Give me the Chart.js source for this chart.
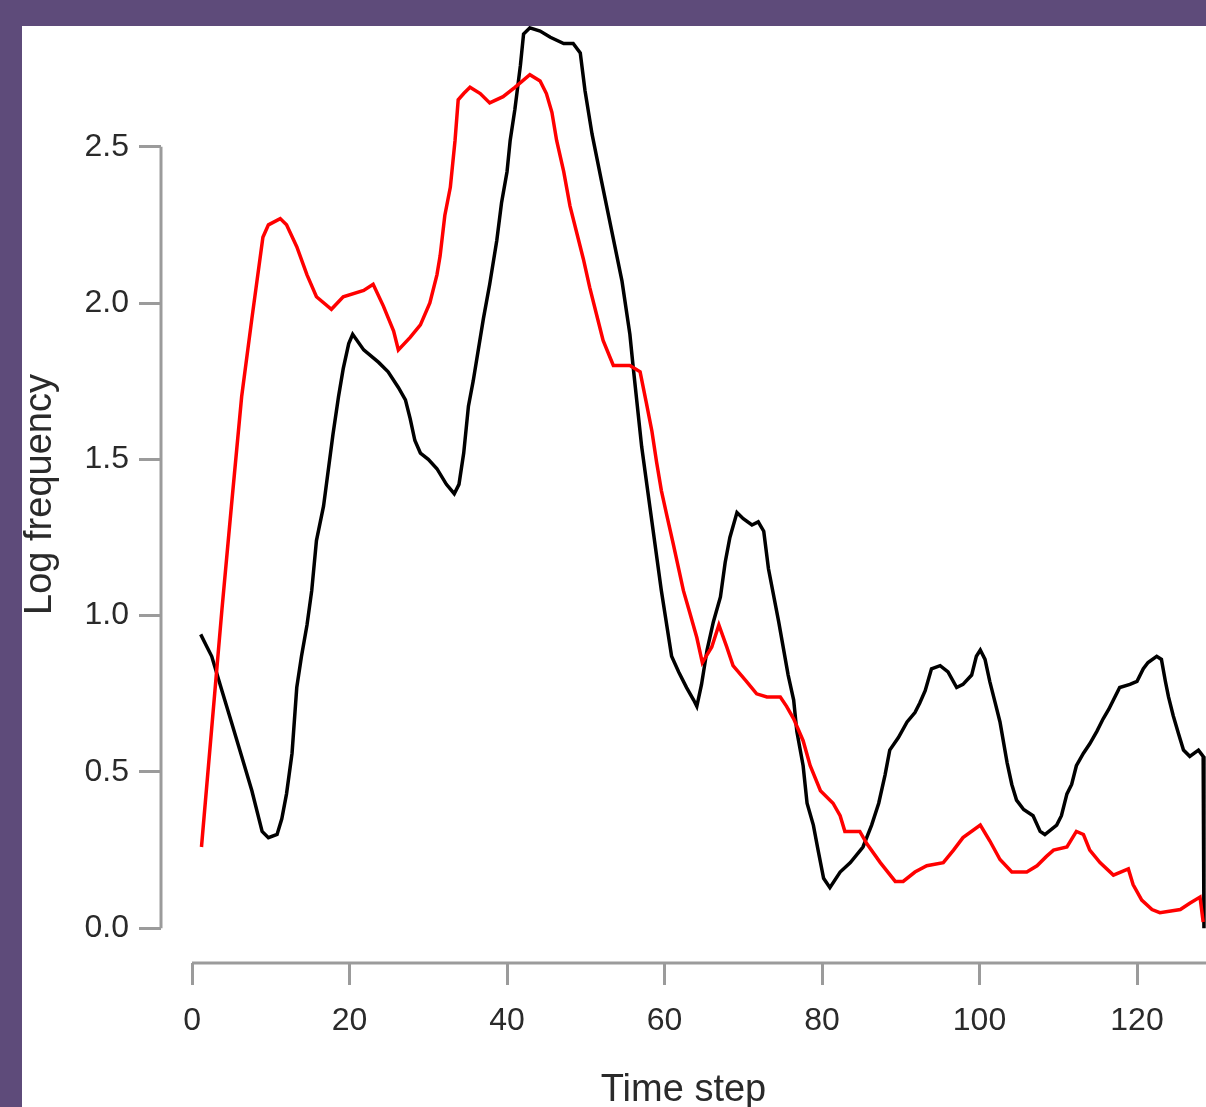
<!DOCTYPE html>
<html>
<head>
<meta charset="utf-8">
<script src="https://cdn.jsdelivr.net/npm/chart.js@4.4.1/dist/chart.umd.min.js"></script>
<style>
  html, body { margin: 0; padding: 0; background: #5e4b7a; overflow: hidden; }
  #wrap { position: absolute; left: 22px; top: 26px; width: 1184px; height: 1081px; background: #fff; }
</style>
</head>
<body>
<div id="wrap"><canvas id="chart"></canvas></div>
<script>
// tick labels
const xTicks = [0, 20, 40, 60, 80, 100, 120];
const yTicks = [0, 0.5, 1.0, 1.5, 2.0, 2.5];

// black series (time step, log frequency)
const blackT = [1.1, 1.9, 2.5, 3.8, 5.0, 6.3, 7.6, 8.9, 9.7, 10.8, 11.4, 12.0, 12.7, 13.3, 13.9, 14.6, 15.2, 15.8, 16.7, 17.9,
  18.6, 19.2, 19.9, 20.4, 21.8, 23.7, 24.9, 26.2, 27.1, 27.7, 28.3, 29.0, 30.0, 31.1, 32.3, 33.3, 33.9, 34.5, 35.1, 35.7,
  37.0, 37.8, 38.7, 39.3, 40.0, 40.4, 41.0, 41.7, 42.1, 42.9, 44.2, 45.5, 47.2, 48.4, 49.3, 49.9, 50.8, 52.0, 53.3, 54.6,
  55.6, 56.0, 57.1, 58.4, 59.6, 60.9, 61.8, 62.8, 63.7, 64.1, 64.7, 65.4, 66.2, 67.1, 67.7, 68.3, 69.2, 70.0, 71.1, 71.9,
  72.6, 73.2, 74.5, 75.7, 76.4, 76.8, 77.6, 78.1, 78.9, 79.5, 80.2, 81.0, 82.3, 83.6, 85.2, 86.3, 87.2, 88.0, 88.6, 89.7,
  90.8, 91.8, 92.4, 93.1, 93.9, 95.0, 96.0, 97.1, 97.9, 99.0, 99.6, 100.1, 100.7, 101.3, 102.0, 102.6, 103.5, 104.1, 104.7, 105.6,
  106.8, 107.7, 108.3, 109.8, 110.4, 111.1, 111.7, 112.3, 113.2, 114.0, 114.9, 115.7, 116.4, 117.0, 117.8, 119.1, 120.0, 120.8,
  121.4, 122.5, 123.1, 123.6, 124.0, 124.6, 125.3, 125.9, 126.7, 127.8, 128.4, 128.5];
const blackV = [0.94, 0.90, 0.87, 0.76, 0.66, 0.55, 0.44, 0.31, 0.29, 0.30, 0.35, 0.43, 0.56, 0.77, 0.87, 0.97, 1.08, 1.24, 1.35, 1.58,
  1.70, 1.79, 1.87, 1.90, 1.85, 1.81, 1.78, 1.73, 1.69, 1.63, 1.56, 1.52, 1.50, 1.47, 1.42, 1.39, 1.42, 1.52, 1.67, 1.75,
  1.95, 2.06, 2.20, 2.32, 2.42, 2.52, 2.62, 2.76, 2.86, 2.88, 2.87, 2.85, 2.83, 2.83, 2.80, 2.68, 2.54, 2.39, 2.23, 2.07,
  1.90, 1.80, 1.54, 1.30, 1.08, 0.87, 0.82, 0.77, 0.73, 0.71, 0.78, 0.89, 0.98, 1.06, 1.17, 1.25, 1.33, 1.31, 1.29, 1.30,
  1.27, 1.15, 0.98, 0.81, 0.73, 0.63, 0.52, 0.40, 0.33, 0.25, 0.16, 0.13, 0.18, 0.21, 0.26, 0.33, 0.40, 0.49, 0.57, 0.61,
  0.66, 0.69, 0.72, 0.76, 0.83, 0.84, 0.82, 0.77, 0.78, 0.81, 0.87, 0.89, 0.86, 0.79, 0.72, 0.66, 0.53, 0.46, 0.41, 0.38,
  0.36, 0.31, 0.30, 0.33, 0.36, 0.43, 0.46, 0.52, 0.56, 0.59, 0.63, 0.67, 0.70, 0.73, 0.77, 0.78, 0.79, 0.83,
  0.85, 0.87, 0.86, 0.79, 0.74, 0.68, 0.62, 0.57, 0.55, 0.57, 0.55, 0.00];

// red series
const redT = [1.2, 2.5, 3.8, 5.0, 6.3, 7.6, 9.0, 9.7, 11.2, 12.0, 13.3, 14.6, 15.8, 17.7, 19.2, 21.8, 23.0, 24.3, 25.6, 26.2,
  27.7, 29.0, 30.2, 31.1, 31.5, 32.1, 32.8, 33.4, 33.8, 34.5, 35.3, 36.6, 37.8, 39.5, 41.0, 42.9, 44.2, 45.0, 45.7, 46.3,
  47.2, 48.0, 48.9, 49.7, 50.5, 51.4, 52.2, 53.5, 55.6, 56.9, 57.7, 58.4, 59.0, 59.6, 60.3, 61.1, 61.8, 62.4, 63.2, 64.1,
  64.8, 66.0, 66.9, 67.9, 68.7, 70.4, 71.7, 73.0, 74.7, 75.5, 76.4, 77.6, 78.5, 79.8, 81.4, 82.3, 82.9, 84.8, 85.7, 87.4,
  89.3, 90.3, 91.8, 93.3, 95.4, 96.7, 97.9, 100.1, 101.3, 102.6, 104.1, 106.0, 107.3, 108.5, 109.4, 111.1, 112.3, 113.2, 114.0, 115.3,
  117.0, 118.9, 119.5, 120.6, 121.9, 122.9, 125.5, 126.7, 128.0, 128.4];
const redV = [0.26, 0.64, 1.02, 1.35, 1.70, 1.95, 2.21, 2.25, 2.27, 2.25, 2.18, 2.09, 2.02, 1.98, 2.02, 2.04, 2.06, 1.99, 1.91, 1.85,
  1.89, 1.93, 2.00, 2.09, 2.15, 2.28, 2.37, 2.52, 2.65, 2.67, 2.69, 2.67, 2.64, 2.66, 2.69, 2.73, 2.71, 2.67, 2.61, 2.52,
  2.42, 2.31, 2.22, 2.14, 2.05, 1.96, 1.88, 1.80, 1.80, 1.78, 1.68, 1.59, 1.49, 1.40, 1.32, 1.23, 1.15, 1.08, 1.01, 0.93,
  0.85, 0.90, 0.97, 0.90, 0.84, 0.79, 0.75, 0.74, 0.74, 0.71, 0.67, 0.60, 0.52, 0.44, 0.40, 0.36, 0.31, 0.31, 0.27, 0.21,
  0.15, 0.15, 0.18, 0.20, 0.21, 0.25, 0.29, 0.33, 0.28, 0.22, 0.18, 0.18, 0.20, 0.23, 0.25, 0.26, 0.31, 0.30, 0.25, 0.21,
  0.17, 0.19, 0.14, 0.09, 0.06, 0.05, 0.06, 0.08, 0.10, 0.02];

const axisGrey = '#9b9b9b';
const textColor = '#2a2a2a';
const fontFamily = '"Liberation Sans", Arial, sans-serif';

function toPoints(ts, vs) {
  return ts.map((t, i) => ({ x: t, y: vs[i] }));
}

// scales sit flush to the canvas edges, no extra room for edge labels
function noMargins(s) {
  s.paddingTop = 0;
  s.paddingBottom = 0;
  s.paddingLeft = 0;
  s.paddingRight = 0;
}

// R-style axis lines that only span the tick range
const rAxes = {
  id: 'rAxes',
  afterDraw(chart) {
    const { ctx, chartArea, scales } = chart;
    ctx.save();
    ctx.strokeStyle = axisGrey;
    ctx.lineWidth = 3;
    ctx.beginPath();
    ctx.moveTo(chartArea.left, scales.y.getPixelForValue(yTicks[0]));
    ctx.lineTo(chartArea.left, scales.y.getPixelForValue(yTicks[yTicks.length - 1]));
    ctx.moveTo(scales.x.getPixelForValue(xTicks[0]), chartArea.bottom);
    ctx.lineTo(chartArea.right, chartArea.bottom);
    ctx.stroke();
    ctx.restore();
  }
};

new Chart(document.getElementById('chart'), {
  type: 'line',
  data: {
    datasets: [
      { data: toPoints(redT, redV), borderColor: '#ff0000', borderWidth: 3.5, order: 0 },
      { data: toPoints(blackT, blackV), borderColor: '#000000', borderWidth: 3.5, order: 1 }
    ]
  },
  options: {
    responsive: true,
    maintainAspectRatio: false,
    animation: false,
    layout: { padding: 0 },
    elements: { point: { radius: 0 }, line: { tension: 0 } },
    plugins: { legend: { display: false }, tooltip: { enabled: false } },
    clip: false,
    scales: {
      x: {
        type: 'linear',
        min: -3.94,
        max: 128.76,
        afterBuildTicks: s => { s.ticks = xTicks.map(v => ({ value: v })); },
        afterFit: s => { s.height = 144; noMargins(s); },
        border: { display: false },
        grid: { drawOnChartArea: false, drawTicks: true, tickLength: 22, color: axisGrey, lineWidth: 3 },
        ticks: { color: textColor, padding: 17, maxRotation: 0, font: { family: fontFamily, size: 32 } },
        title: { display: true, text: 'Time step', color: textColor, padding: { bottom: -3 }, font: { family: fontFamily, size: 38, lineHeight: 1 } }
      },
      y: {
        min: -0.111,
        max: 2.886,
        afterBuildTicks: s => { s.ticks = yTicks.map(v => ({ value: v })); },
        afterFit: s => { s.width = 139; noMargins(s); },
        border: { display: false },
        grid: { drawOnChartArea: false, drawTicks: true, tickLength: 22, color: axisGrey, lineWidth: 3 },
        ticks: { color: textColor, padding: 10, font: { family: fontFamily, size: 32 }, callback: v => v.toFixed(1) },
        title: { display: true, text: 'Log frequency', color: textColor, padding: 0, font: { family: fontFamily, size: 38, lineHeight: 1 } }
      }
    }
  },
  plugins: [rAxes]
});
</script>
</body>
</html>
